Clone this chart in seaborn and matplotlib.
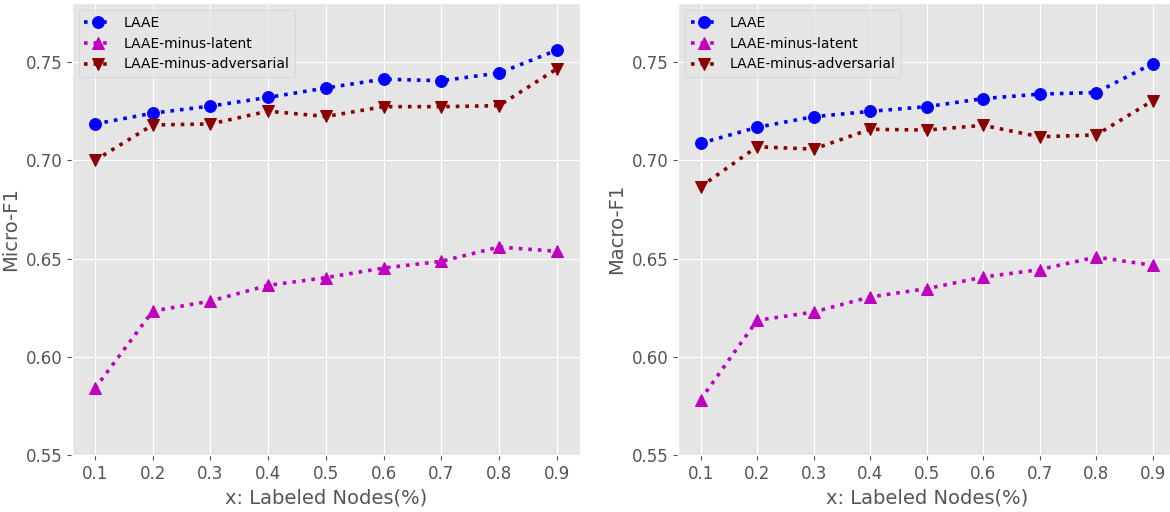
import matplotlib
matplotlib.use("Agg")
import matplotlib.pyplot as plt
import pandas as pd
import seaborn as sns

ratios = [0.1, 0.2, 0.3, 0.4, 0.5, 0.6, 0.7, 0.8, 0.9]

micro_laae = [0.7185, 0.7240, 0.7276, 0.7320, 0.7368, 0.7413, 0.7405, 0.7444, 0.7560]
micro_latent = [0.5840, 0.6233, 0.6284, 0.6364, 0.6403, 0.6452, 0.6486, 0.6559, 0.6537]
micro_adv = [0.7000, 0.7180, 0.7185, 0.7250, 0.7223, 0.7273, 0.7273, 0.7278, 0.7465]

macro_laae = [0.7087, 0.7168, 0.7222, 0.7249, 0.7273, 0.7314, 0.7337, 0.7345, 0.7492]
macro_latent = [0.5783, 0.6186, 0.6228, 0.6305, 0.6347, 0.6406, 0.6444, 0.6508, 0.6466]
macro_adv = [0.6866, 0.7069, 0.7057, 0.7158, 0.7154, 0.7178, 0.7120, 0.7129, 0.7303]

names = ["LAAE", "LAAE-minus-latent", "LAAE-minus-adversarial"]
colors = ["blue", "m", "darkred"]
markers = ["o", "^", "v"]

plt.style.use("ggplot")
fig = plt.figure(figsize=(11.7, 5.12), dpi=100)
ax1 = fig.add_axes([0.0615, 0.111, 0.434, 0.883])
ax2 = fig.add_axes([0.5795, 0.111, 0.425, 0.883])

panels = [
    (ax1, [micro_laae, micro_latent, micro_adv], "Micro-F1"),
    (ax2, [macro_laae, macro_latent, macro_adv], "Macro-F1"),
]

for ax, series, ylab in panels:
    for vals, name, c, m in zip(series, names, colors, markers):
        df = pd.DataFrame({"x": ratios, "y": vals})
        sns.lineplot(data=df, x="x", y="y", ax=ax, color=c, marker=m,
                     linestyle=":", linewidth=2.6, markersize=8.5,
                     markeredgecolor=c, label=name)
    ax.set_xticks(ratios)
    ax.set_xticklabels([str(r) for r in ratios])
    ax.set_yticks([0.55, 0.60, 0.65, 0.70, 0.75])
    ax.set_ylim(0.55, 0.78)
    ax.tick_params(labelsize=12)
    ax.set_xlabel("x: Labeled Nodes(%)", fontsize=14)
    ax.set_ylabel(ylab, fontsize=14)
    ax.legend(loc="upper left", fontsize=10)

fig.savefig("out.png", dpi=100)
